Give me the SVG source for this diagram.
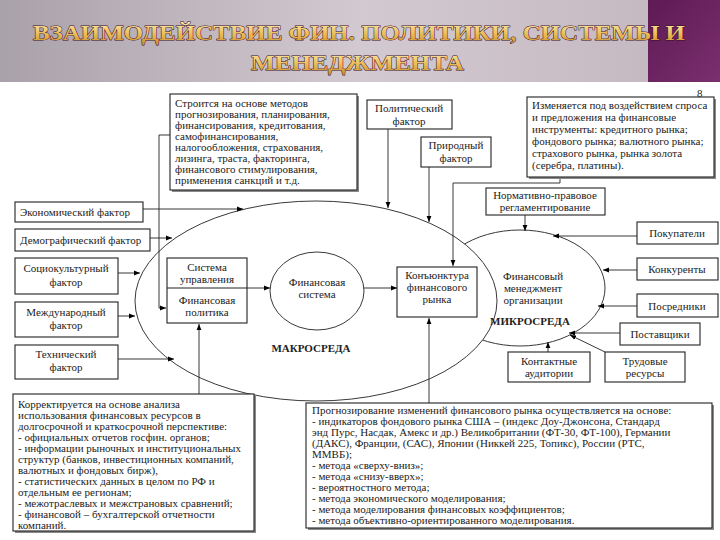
<svg xmlns="http://www.w3.org/2000/svg" width="720" height="540" viewBox="0 0 720 540">
<defs>
<linearGradient id="band" x1="0" y1="0" x2="1" y2="0">
<stop offset="0" stop-color="#a9a1aa"/>
<stop offset="0.5" stop-color="#d3c9d0"/>
<stop offset="1" stop-color="#c2b6be"/>
</linearGradient>
<linearGradient id="purp" x1="0" y1="0" x2="1" y2="1">
<stop offset="0" stop-color="#5e1a55"/>
<stop offset="1" stop-color="#7a2f6e"/>
</linearGradient>
<linearGradient id="gold" x1="0" y1="0" x2="0" y2="1">
<stop offset="0" stop-color="#fff2b8"/>
<stop offset="0.6" stop-color="#e9b850"/>
<stop offset="1" stop-color="#c98a2a"/>
</linearGradient>
<marker id="ar" viewBox="0 0 10 10" refX="10" refY="5" markerWidth="6" markerHeight="6" markerUnits="userSpaceOnUse" orient="auto">
<path d="M0,1 L10,5 L0,9 z" fill="#000"/>
</marker>
</defs>
<style>
.box{fill:#fff;stroke:#222;stroke-width:1.1}
.shd{fill:#8a8a8a}
.t{font-size:11px;fill:#222}
.c{text-anchor:middle}
.b{font-weight:bold}
.ln{fill:none;stroke:#222;stroke-width:0.9}
.ttl{font-weight:bold;font-size:22px;fill:url(#gold);stroke:#3a0d25;stroke-width:0.9;paint-order:stroke}
</style>
<rect width="720" height="540" fill="#fff"/>
<g font-family="'Liberation Serif', serif">
<g id="title">
<rect x="0" y="0" width="720" height="82" fill="url(#band)"/>
<rect x="648" y="0" width="72" height="82" fill="url(#purp)"/>
<text class="ttl" x="33" y="40" textLength="652" lengthAdjust="spacingAndGlyphs">ВЗАИМОДЕЙСТВИЕ ФИН. ПОЛИТИКИ, СИСТЕМЫ И</text>
<text class="ttl" x="251" y="70" textLength="213" lengthAdjust="spacingAndGlyphs">МЕНЕДЖМЕНТА</text>
<text class="t" x="697" y="97" font-size="8">8</text>
</g>
<g id="ellipses">
<ellipse cx="520" cy="288" rx="85" ry="58" class="ln" fill="none"/>
<ellipse cx="316" cy="301" rx="181" ry="100" fill="#fff" stroke="#222" stroke-width="0.9"/>
<ellipse cx="317" cy="291" rx="47" ry="39" class="ln"/>
</g>
<g id="connectors" class="ln">
<polyline points="170,135 159,135 159,308 166,308" marker-end="url(#ar)"/>
<line x1="143" y1="209" x2="243" y2="209" marker-end="url(#ar)"/>
<line x1="150" y1="238" x2="172" y2="238" marker-end="url(#ar)"/>
<line x1="118" y1="273" x2="140" y2="273" marker-end="url(#ar)"/>
<line x1="118" y1="316" x2="135" y2="316" marker-end="url(#ar)"/>
<line x1="118" y1="359" x2="174" y2="359" marker-end="url(#ar)"/>
<line x1="388" y1="129" x2="388" y2="208" marker-end="url(#ar)"/>
<line x1="429" y1="167" x2="429" y2="222" marker-end="url(#ar)"/>
<polyline points="560,177 560,183 453,183 453,266" marker-end="url(#ar)"/>
<line x1="525" y1="215" x2="525" y2="231" marker-end="url(#ar)"/>
<line x1="247" y1="288" x2="270" y2="288" marker-end="url(#ar)"/>
<line x1="364" y1="288" x2="397" y2="288" marker-end="url(#ar)"/>
<line x1="199" y1="394" x2="199" y2="324" marker-end="url(#ar)"/>
<line x1="429" y1="403" x2="429" y2="318" marker-end="url(#ar)"/>
<line x1="637" y1="236" x2="553" y2="236" marker-end="url(#ar)"/>
<line x1="637" y1="270" x2="603" y2="270" marker-end="url(#ar)"/>
<line x1="637" y1="306" x2="598" y2="306" marker-end="url(#ar)"/>
<line x1="620" y1="333" x2="569" y2="333" marker-end="url(#ar)"/>
<line x1="605" y1="352" x2="570" y2="335" marker-end="url(#ar)"/>
<line x1="548" y1="352" x2="548" y2="342" marker-end="url(#ar)"/>
</g>
<g id="n-methods">
<rect class="shd" x="172" y="96" width="187" height="96"/>
<rect class="box" x="170" y="94" width="187" height="96"/>
<text class="t" x="175" y="107">Строится на основе методов</text>
<text class="t" x="175" y="118">прогнозирования, планирования,</text>
<text class="t" x="175" y="129">финансирования, кредитования,</text>
<text class="t" x="175" y="140">самофинансирования,</text>
<text class="t" x="175" y="151">налогообложения, страхования,</text>
<text class="t" x="175" y="162">лизинга, траста, факторинга,</text>
<text class="t" x="175" y="173">финансового стимулирования,</text>
<text class="t" x="175" y="184">применения санкций и т.д.</text>
</g>
<g id="n-polit">
<rect class="box" x="367" y="100" width="85" height="29"/>
<text class="t c" x="409" y="112">Политический</text>
<text class="t c" x="409" y="125">фактор</text>
</g>
<g id="n-prirod">
<rect class="box" x="421" y="137" width="70" height="30"/>
<text class="t c" x="456" y="149">Природный</text>
<text class="t c" x="456" y="162">фактор</text>
</g>
<g id="n-change">
<rect class="shd" x="529" y="99" width="187" height="80"/>
<rect class="box" x="527" y="97" width="187" height="80"/>
<text class="t" x="532" y="109">Изменяется под воздействием спроса</text>
<text class="t" x="532" y="121">и предложения на финансовые</text>
<text class="t" x="532" y="133">инструменты: кредитного рынка;</text>
<text class="t" x="532" y="145">фондового рынка; валютного рынка;</text>
<text class="t" x="532" y="157">страхового рынка, рынка золота</text>
<text class="t" x="532" y="169">(серебра, платины).</text>
</g>
<g id="n-norm">
<rect class="box" x="486" y="188" width="119" height="27"/>
<text class="t c" x="545" y="199">Нормативно-правовое</text>
<text class="t c" x="545" y="211">регламентирование</text>
</g>
<g id="n-econ">
<rect class="box" x="15" y="202" width="128" height="20"/>
<text class="t" x="20" y="216">Экономический фактор</text>
</g>
<g id="n-demo">
<rect class="box" x="15" y="229" width="135" height="22"/>
<text class="t" x="20" y="244">Демографический фактор</text>
</g>
<g id="n-socio">
<rect class="box" x="15" y="258" width="103" height="36"/>
<text class="t c" x="66" y="272">Социокультурный</text>
<text class="t c" x="66" y="286">фактор</text>
</g>
<g id="n-intl">
<rect class="box" x="15" y="302" width="103" height="35"/>
<text class="t c" x="66" y="316">Международный</text>
<text class="t c" x="66" y="329">фактор</text>
</g>
<g id="n-tech">
<rect class="box" x="15" y="345" width="103" height="34"/>
<text class="t c" x="66" y="358">Технический</text>
<text class="t c" x="66" y="371">фактор</text>
</g>
<g id="n-upr">
<rect class="box" x="167" y="258" width="80" height="65"/>
<line x1="167" y1="288" x2="247" y2="288" stroke="#222" stroke-width="1"/>
<text class="t c" x="207" y="271">Система</text>
<text class="t c" x="207" y="283">управления</text>
<text class="t c" x="207" y="304">Финансовая</text>
<text class="t c" x="207" y="316">политика</text>
</g>
<g id="n-finsys">
<text class="t c" x="317" y="286">Финансовая</text>
<text class="t c" x="317" y="298">система</text>
</g>
<g id="n-konj">
<rect class="box" x="397" y="267" width="80" height="50"/>
<text class="t c" x="437" y="279">Конъюнктура</text>
<text class="t c" x="437" y="291">финансового</text>
<text class="t c" x="437" y="303">рынка</text>
</g>
<g id="n-mgmt">
<text class="t c" x="533" y="280">Финансовый</text>
<text class="t c" x="533" y="292">менеджмент</text>
<text class="t c" x="533" y="304">организации</text>
</g>
<text class="t c b" x="530" y="325" font-size="10">МИКРОСРЕДА</text>
<text class="t c b" x="311" y="352" font-size="10">МАКРОСРЕДА</text>
<g id="n-buy">
<rect class="box" x="637" y="222" width="81" height="22"/>
<text class="t c" x="677" y="237">Покупатели</text>
</g>
<g id="n-comp">
<rect class="box" x="637" y="258" width="81" height="22"/>
<text class="t c" x="677" y="273">Конкуренты</text>
</g>
<g id="n-med">
<rect class="box" x="637" y="294" width="81" height="23"/>
<text class="t c" x="677" y="310">Посредники</text>
</g>
<g id="n-supp">
<rect class="box" x="620" y="323" width="80" height="22"/>
<text class="t c" x="660" y="338">Поставщики</text>
</g>
<g id="n-contact">
<rect class="box" x="508" y="352" width="82" height="30"/>
<text class="t c" x="549" y="365">Контактные</text>
<text class="t c" x="549" y="377">аудитории</text>
</g>
<g id="n-labor">
<rect class="box" x="605" y="352" width="80" height="30"/>
<text class="t c" x="645" y="365">Трудовые</text>
<text class="t c" x="645" y="377">ресурсы</text>
</g>
<g id="n-correct">
<rect class="shd" x="15" y="396" width="241" height="137"/>
<rect class="box" x="13" y="394" width="241" height="137"/>
<text class="t" x="18" y="408">Корректируется на основе анализа</text>
<text class="t" x="18" y="419">использования финансовых ресурсов в</text>
<text class="t" x="18" y="430">долгосрочной и краткосрочной перспективе:</text>
<text class="t" x="18" y="441">- официальных отчетов госфин. органов;</text>
<text class="t" x="18" y="452">- информации рыночных и институциональных</text>
<text class="t" x="18" y="463">структур (банков, инвестиционных компаний,</text>
<text class="t" x="18" y="474">валютных и фондовых бирж),</text>
<text class="t" x="18" y="485">- статистических данных в целом по РФ и</text>
<text class="t" x="18" y="496">отдельным ее регионам;</text>
<text class="t" x="18" y="507">- межотраслевых и межстрановых сравнений;</text>
<text class="t" x="18" y="518">- финансовой – бухгалтерской отчетности</text>
<text class="t" x="18" y="529">компаний.</text>
</g>
<g id="n-forecast">
<rect class="shd" x="308" y="405" width="406" height="125"/>
<rect class="box" x="306" y="403" width="406" height="125"/>
<text class="t" x="312" y="414">Прогнозирование изменений финансового рынка осуществляется на основе:</text>
<text class="t" x="312" y="425">- индикаторов фондового рынка США – (индекс Доу-Джонсона, Стандард</text>
<text class="t" x="312" y="436">энд Пурс, Насдак, Амекс и др.) Великобритании (ФТ-30, ФТ-100), Германии</text>
<text class="t" x="312" y="447">(ДАКС), Франции, (САС), Японии (Никкей 225, Топикс), России (РТС,</text>
<text class="t" x="312" y="458">ММВБ);</text>
<text class="t" x="312" y="469">- метода «сверху-вниз»;</text>
<text class="t" x="312" y="480">- метода «снизу-вверх»;</text>
<text class="t" x="312" y="491">- вероятностного метода;</text>
<text class="t" x="312" y="502">- метода экономического моделирования;</text>
<text class="t" x="312" y="513">- метода моделирования финансовых коэффициентов;</text>
<text class="t" x="312" y="524">- метода объективно-ориентированного моделирования.</text>
</g>
</g>
</svg>
